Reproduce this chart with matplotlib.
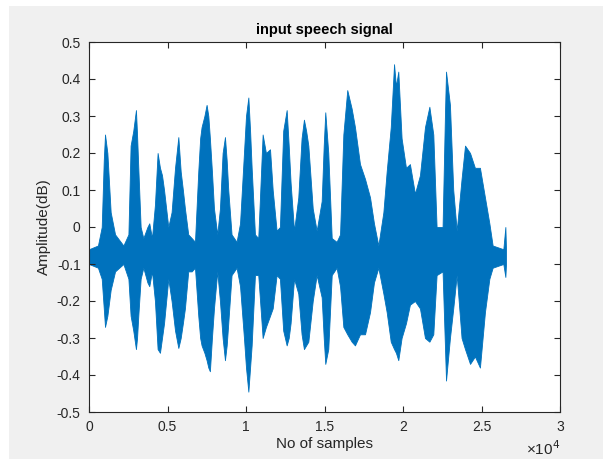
"""Input speech signal waveform, drawn as its amplitude envelope
(upper / lower peak values read off the original plot)
"""

import matplotlib
matplotlib.use('Agg')
import matplotlib.pyplot as plt
from matplotlib.patches import Rectangle

# sample index of each envelope breakpoint
samples = [0, 570, 810, 940, 1020, 1170, 1380, 1660, 2190, 2510, 2650, 2820,
           2990, 3060, 3140, 3290, 3460, 3720, 3840, 4010, 4200, 4370, 4520,
           4650, 4780, 5050, 5260, 5480, 5690, 5840, 5980, 6110, 6320, 6540,
           6750, 6960, 7080, 7170, 7350, 7490, 7600, 7700, 7830, 7960, 8170,
           8340, 8510, 8660, 8770, 8870, 9080, 9400, 9620, 9870, 10000, 10150,
           10260, 10360, 10570, 10780, 11060, 11270, 11530, 11700, 11950,
           12160, 12370, 12590, 12720, 12840, 13060, 13330, 13540, 13690,
           13830, 13970, 14250, 14500, 14820, 14950, 15050, 15240, 15460,
           15770, 15990, 16200, 16450, 16730, 16940, 17260, 17580, 17900,
           18150, 18430, 18750, 18960, 19220, 19430, 19550, 19700, 19910,
           20190, 20440, 20760, 21080, 21400, 21680, 21930, 22140, 22520,
           22670, 22740, 22990, 23200, 23420, 23730, 23950, 24270, 24580,
           24900, 25220, 25500, 25710, 26390, 26520, 26560]
# upper peak of the signal at each breakpoint
upper = [-0.06, -0.05, 0.0, 0.18, 0.25, 0.2, 0.04, -0.02, -0.05, -0.02, 0.22,
         0.26, 0.316, 0.25, 0.16, 0.0, -0.03, 0.0, 0.01, -0.03, 0.06, 0.2,
         0.16, 0.14, 0.1, 0.0, 0.04, 0.16, 0.243, 0.15, 0.1, 0.05, -0.02,
         -0.03, -0.04, 0.15, 0.24, 0.27, 0.3, 0.33, 0.3, 0.24, 0.15, 0.05,
         -0.02, 0.05, 0.2, 0.243, 0.18, 0.1, -0.02, -0.04, 0.01, 0.2, 0.3,
         0.35, 0.26, 0.16, -0.02, -0.03, 0.25, 0.2, 0.21, 0.1, -0.01,
         0.0, 0.26, 0.316, 0.22, 0.12, -0.01, 0.08, 0.24, 0.29,
         0.26, 0.22, 0.05, -0.01, 0.07, 0.22, 0.31, 0.2, -0.03,
         -0.04, -0.02, 0.25, 0.37, 0.32, 0.27, 0.17, 0.13, 0.08,
         0.01, -0.05, 0.04, 0.15, 0.27, 0.44, 0.38, 0.42, 0.24,
         0.16, 0.17, 0.09, 0.14, 0.27, 0.325, 0.25, 0.0, 0.0,
         0.3, 0.42, 0.33, 0.1, -0.01, 0.13, 0.22, 0.2, 0.16,
         0.16, 0.08, 0.01, -0.05, -0.06, 0.0, -0.06]
# lower peak of the signal at each breakpoint
lower = [-0.10, -0.11, -0.14, -0.22, -0.27, -0.24, -0.17, -0.12, -0.10, -0.14,
         -0.24, -0.28, -0.33, -0.3, -0.24, -0.14, -0.11, -0.15, -0.16, -0.12,
         -0.2, -0.33, -0.34, -0.3, -0.26, -0.14, -0.2, -0.28, -0.327, -0.3,
         -0.26, -0.22, -0.12, -0.12, -0.11, -0.24, -0.3, -0.32, -0.34, -0.36,
         -0.38, -0.39, -0.3, -0.22, -0.12, -0.2, -0.3, -0.36, -0.32, -0.26,
         -0.13, -0.11, -0.16, -0.3, -0.38, -0.445, -0.38, -0.32, -0.13,
         -0.13, -0.3, -0.27, -0.24, -0.22, -0.13, -0.14, -0.28, -0.32, -0.3,
         -0.26, -0.14, -0.18, -0.29, -0.33, -0.32, -0.31, -0.2, -0.13, -0.19,
         -0.3, -0.37, -0.33, -0.13, -0.11, -0.16, -0.27, -0.29, -0.31, -0.32,
         -0.29, -0.29, -0.23, -0.15, -0.11, -0.18, -0.23, -0.31, -0.33, -0.34,
         -0.36, -0.3, -0.26, -0.21, -0.2, -0.22, -0.3, -0.31, -0.29, -0.13,
         -0.12, -0.32, -0.415, -0.3, -0.22, -0.13, -0.3, -0.33, -0.37, -0.35,
         -0.38, -0.23, -0.14, -0.11, -0.10, -0.135, -0.10]

x_ticks = [0, 5000, 10000, 15000, 20000, 25000, 30000]
x_tick_labels = ['0', '0.5', '1', '1.5', '2', '2.5', '3']
y_ticks = [-0.5, -0.4, -0.3, -0.2, -0.1, 0, 0.1, 0.2, 0.3, 0.4, 0.5]
y_tick_labels = ['-0.5', '-0.4', '-0.3', '-0.2', '-0.1', '0',
                 '0.1', '0.2', '0.3', '0.4', '0.5']

plt.rcParams['font.family'] = ['Liberation Sans', 'DejaVu Sans']
plt.rcParams['axes.unicode_minus'] = False

fig = plt.figure(figsize=(6.03, 4.59), dpi=100, facecolor='white')
# grey MATLAB figure background (white border on left/top of screenshot)
fig.patches.append(Rectangle((9 / 603, 0), 1, 1 - 6 / 459, transform=fig.transFigure,
                             facecolor='#f0f0f0', edgecolor='none', zorder=-1))

ax = fig.add_axes([89 / 603, 1 - 412 / 459, 471 / 603, 370 / 459])
ax.fill_between(samples, lower, upper, color='#0072bd', linewidth=0.6,
                edgecolor='#0072bd')

ax.set_xlim(0, 30000)
ax.set_ylim(-0.5, 0.5)
ax.set_xticks(x_ticks)
ax.set_xticklabels(x_tick_labels)
ax.set_yticks(y_ticks)
ax.set_yticklabels(y_tick_labels)
ax.tick_params(direction='in', length=4, width=0.8, top=True, right=True,
               labelsize=10, colors='#262626', pad=6)
for spine in ax.spines.values():
    spine.set_color('#262626')
    spine.set_linewidth(0.8)

ax.set_title('input speech signal', fontsize=10.5, fontweight='bold',
             color='black', pad=6)
ax.set_xlabel('No of samples', fontsize=11, color='#262626', labelpad=2)
ax.set_ylabel('Amplitude(dB)', fontsize=11, color='#262626', labelpad=4)
ax.text(1.0, -0.116, '×10$^{4}$', transform=ax.transAxes, ha='right',
        va='baseline', fontsize=11, color='#262626')

plt.savefig('out.png', dpi=100, facecolor=fig.get_facecolor())
